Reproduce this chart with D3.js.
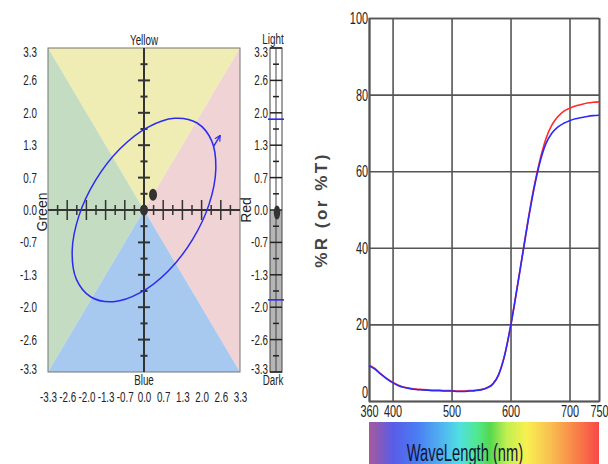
<!DOCTYPE html>
<html>
<head>
<meta charset="utf-8">
<script src="https://cdn.jsdelivr.net/npm/d3@7"></script>
<style>
body { margin: 0; background: #fff; }
</style>
</head>
<body>
<div id="chart-area"></div>
<script>
// ---- data ----
var abTicks = [-3.3, -2.64, -1.98, -1.32, -0.66, 0, 0.66, 1.32, 1.98, 2.64, 3.3];
var abMinor = [-2.97, -2.31, -1.65, -0.99, -0.33, 0.33, 0.99, 1.65, 2.31, 2.97];
var zoneNames = ["yellow", "green", "red", "blue"];
var zonePts = [
    [[-3.3, 3.3], [3.3, 3.3], [0, 0]],
    [[-3.3, 3.3], [-3.3, -3.3], [0, 0]],
    [[3.3, 3.3], [3.3, -3.3], [0, 0]],
    [[-3.3, -3.3], [3.3, -3.3], [0, 0]]
];
var ellipsePts = [
    [1.825, 1.772], [2.327, 1.408], [2.468, 0.827], [2.238, 0.12],
    [1.667, -0.603], [0.842, -1.237], [-0.11, -1.679], [-1.048, -1.868],
    [-1.825, -1.772], [-2.327, -1.408], [-2.468, -0.827], [-2.238, -0.12],
    [-1.667, 0.603], [-0.842, 1.237], [0.11, 1.679], [1.048, 1.868]
];
var arrowPts = [[2.4, 1.3], [2.62, 1.52]];
var samplePts = [[0, 0], [0.31, 0.31]];
var lightLimits = [1.85, -1.83];
var lightSample = -0.05;

var wavelengths = [360, 370, 380, 390, 400, 410, 420, 430, 440, 450, 460, 470, 480, 490, 500,
    510, 520, 530, 540, 550, 560, 570, 580, 590, 600, 610, 620, 630, 640, 650,
    660, 670, 680, 690, 700, 710, 720, 730, 740, 750];
var reflRed = [9.4, 8.5, 7.1, 5.9, 4.9, 4.1, 3.6, 3.3, 3.1, 3.0, 2.9, 2.8, 2.8, 2.7, 2.7,
    2.6, 2.6, 2.7, 2.8, 3.0, 3.5, 4.5, 7.0, 12.0, 19.5, 28.5, 38.0, 47.5, 56.0, 63.0,
    68.5, 72.0, 74.2, 75.6, 76.4, 77.0, 77.4, 77.8, 78.0, 78.1];
var reflBlue = [9.2, 8.3, 7.0, 5.8, 4.8, 4.0, 3.5, 3.2, 3.0, 2.9, 2.8, 2.7, 2.7, 2.6, 2.6,
    2.5, 2.5, 2.6, 2.7, 2.9, 3.4, 4.4, 6.9, 11.9, 19.4, 28.4, 37.8, 47.2, 55.6, 62.4,
    67.2, 69.9, 71.5, 72.5, 73.2, 73.7, 74.0, 74.3, 74.5, 74.6];
var pctTicks = [0, 20, 40, 60, 80, 100];
var wlTicks = [360, 400, 500, 600, 700, 750];
var spectrumNm = [360, 400, 441, 486, 514, 543, 565, 593, 627, 667, 712, 750];

// ---- styles ----
var zoneColor = { yellow: "#efedb3", green: "#c3dcc2", red: "#efd3d5", blue: "#a7c8ef" };
var spectrumColors = ["#a65a9a", "#5a5ce8", "#4a7cf2", "#50b8f0", "#50e0e0", "#50e890",
    "#55d850", "#c0ef50", "#f8f050", "#f8c050", "#f88048", "#f84848"];
var FONT = "'Liberation Sans', Arial, sans-serif";
var axisColor = "#333";

// the reference is squeezed sideways, so horizontal text is narrowed
function squeeze(sel, k) {
    sel.each(function () {
        var w = this.getComputedTextLength();
        d3.select(this).attr("textLength", w * k).attr("lengthAdjust", "spacingAndGlyphs");
    });
}

// end labels sit a little inside the plot edges
function nudgeEnds(axisG) {
    axisG.selectAll(".tick text")
        .filter(d => d === 3.3).attr("dy", "0.62em");
    axisG.selectAll(".tick text")
        .filter(d => d === -3.3).attr("dy", "0.1em");
}

var svg = d3.select("#chart-area")
    .append("svg")
    .attr("width", 608)
    .attr("height", 464)
    .style("display", "block");
var defs = svg.append("defs");

// ---- left: a*/b* plane ----
var abX = d3.scaleLinear().domain([-3.3, 3.3]).range([48, 240]);
var abY = d3.scaleLinear().domain([-3.3, 3.3]).range([372, 48]);

var left = svg.append("g");

left.selectAll(".zone")
    .data(zonePts)
    .enter().append("polygon")
    .attr("class", "zone")
    .attr("points", d => d.map(p => abX(p[0]) + "," + abY(p[1])).join(" "))
    .attr("fill", (d, i) => zoneColor[zoneNames[i]]);

left.append("rect")
    .attr("x", abX(-3.3)).attr("y", abY(3.3))
    .attr("width", abX(3.3) - abX(-3.3))
    .attr("height", abY(-3.3) - abY(3.3))
    .attr("fill", "none")
    .attr("stroke", "#777")
    .attr("stroke-width", 1);

// cross axes
left.append("line")
    .attr("x1", abX(-3.3)).attr("x2", abX(3.3))
    .attr("y1", abY(0)).attr("y2", abY(0))
    .attr("stroke", axisColor).attr("stroke-width", 2);
left.append("line")
    .attr("x1", abX(0)).attr("x2", abX(0))
    .attr("y1", abY(3.3)).attr("y2", abY(-3.3))
    .attr("stroke", axisColor).attr("stroke-width", 2);

var inner = abTicks.filter(d => Math.abs(d) < 3.3 && d !== 0);
left.selectAll(".vmajor").data(inner).enter().append("line")
    .attr("x1", abX(0) - 6).attr("x2", abX(0) + 6)
    .attr("y1", d => abY(d)).attr("y2", d => abY(d))
    .attr("stroke", axisColor).attr("stroke-width", 2);
left.selectAll(".vminor").data(abMinor).enter().append("line")
    .attr("x1", abX(0) - 3.5).attr("x2", abX(0) + 3.5)
    .attr("y1", d => abY(d)).attr("y2", d => abY(d))
    .attr("stroke", axisColor).attr("stroke-width", 2);
left.selectAll(".hmajor").data(inner).enter().append("line")
    .attr("x1", d => abX(d)).attr("x2", d => abX(d))
    .attr("y1", abY(0) - 10).attr("y2", abY(0) + 10)
    .attr("stroke", axisColor).attr("stroke-width", 1.5);
left.selectAll(".hminor").data(abMinor).enter().append("line")
    .attr("x1", d => abX(d)).attr("x2", d => abX(d))
    .attr("y1", abY(0) - 5).attr("y2", abY(0) + 5)
    .attr("stroke", axisColor).attr("stroke-width", 1.5);

// tick labels (plain hyphen for the minus sign, as in the original)
var fmt = d => d3.format(".1f")(d).replace("\u2212", "-");
var abLeftAxis = left.append("g")
    .attr("transform", "translate(37,0)")
    .call(d3.axisLeft(abY).tickValues(abTicks).tickSize(0).tickPadding(0).tickFormat(fmt));
var abBottomAxis = left.append("g")
    .attr("transform", "translate(0,392)")
    .call(d3.axisBottom(abX).tickValues(abTicks).tickSize(0).tickPadding(0).tickFormat(fmt));
[abLeftAxis, abBottomAxis].forEach(a => {
    a.select(".domain").remove();
    a.selectAll("text").attr("font-family", FONT).attr("font-size", "14px").attr("fill", "#222")
        .call(squeeze, 0.7);
});
nudgeEnds(abLeftAxis);

function label(x, y, txt, rot) {
    var t = left.append("text")
        .attr("text-anchor", "middle")
        .attr("font-family", FONT)
        .attr("font-size", "14px")
        .attr("fill", "#222")
        .text(txt);
    if (rot) {
        t.attr("transform", "translate(" + x + "," + y + ") rotate(-90)");
    } else {
        t.attr("x", x).attr("y", y).call(squeeze, 0.7);
    }
    return t;
}
label(abX(0), 45, "Yellow");
label(abX(0), 385, "Blue");
label(47, 212, "Green", true);
label(251, 210, "Red", true);

// tolerance ellipse
var abLine = d3.line().x(d => abX(d[0])).y(d => abY(d[1]));
left.append("path")
    .datum(ellipsePts)
    .attr("d", abLine.curve(d3.curveCatmullRomClosed.alpha(0.5)))
    .attr("fill", "none")
    .attr("stroke", "#2b2bf0")
    .attr("stroke-width", 1.5);

defs.append("marker")
    .attr("id", "arrow-head")
    .attr("viewBox", "0 0 10 10")
    .attr("refX", 9).attr("refY", 5)
    .attr("markerWidth", 7).attr("markerHeight", 7)
    .attr("markerUnits", "userSpaceOnUse")
    .attr("orient", "auto")
    .append("path")
    .attr("d", "M1,1 L9,5 L1,9")
    .attr("fill", "none")
    .attr("stroke", "#2b2bf0")
    .attr("stroke-width", 1.6);

left.append("path")
    .datum(arrowPts)
    .attr("d", d3.line().x(d => abX(d[0])).y(d => abY(d[1])))
    .attr("fill", "none")
    .attr("stroke", "#2b2bf0")
    .attr("stroke-width", 1.4)
    .attr("marker-end", "url(#arrow-head)");

left.selectAll(".sample")
    .data(samplePts)
    .enter().append("ellipse")
    .attr("cx", d => abX(d[0]))
    .attr("cy", d => abY(d[1]))
    .attr("rx", 4)
    .attr("ry", (d, i) => i === 0 ? 5.5 : 6)
    .attr("fill", "#333");

// ---- lightness bar ----
var lY = abY;
var barX0 = 270, barX1 = 282, barMid = 276;
left.append("rect")
    .attr("x", barX0).attr("y", lY(0))
    .attr("width", barX1 - barX0).attr("height", lY(-3.3) - lY(0))
    .attr("fill", "#b5b5b5");
left.append("rect")
    .attr("x", barX0).attr("y", lY(3.3))
    .attr("width", barX1 - barX0).attr("height", lY(-3.3) - lY(3.3))
    .attr("fill", "none").attr("stroke", "#444").attr("stroke-width", 1);
left.append("line")
    .attr("x1", barMid).attr("x2", barMid)
    .attr("y1", lY(3.3)).attr("y2", lY(-3.3))
    .attr("stroke", "#444").attr("stroke-width", 1);
left.selectAll(".lmajor").data(abTicks).enter().append("line")
    .attr("x1", barX0).attr("x2", barX1)
    .attr("y1", d => lY(d)).attr("y2", d => lY(d))
    .attr("stroke", "#222").attr("stroke-width", 1.5);
left.selectAll(".lminor").data(abMinor).enter().append("line")
    .attr("x1", barMid - 3).attr("x2", barMid + 3)
    .attr("y1", d => lY(d)).attr("y2", d => lY(d))
    .attr("stroke", "#222").attr("stroke-width", 1.5);
left.selectAll(".llimit").data(lightLimits).enter().append("line")
    .attr("x1", barX0 - 2).attr("x2", barX1 + 2)
    .attr("y1", d => lY(d)).attr("y2", d => lY(d))
    .attr("stroke", "#2b2bf0").attr("stroke-width", 1.6);
left.append("ellipse")
    .attr("cx", 277).attr("cy", lY(lightSample))
    .attr("rx", 3.2).attr("ry", 7)
    .attr("fill", "#333");

var lAxis = left.append("g")
    .attr("transform", "translate(268,0)")
    .call(d3.axisLeft(lY).tickValues(abTicks).tickSize(0).tickPadding(0).tickFormat(fmt));
lAxis.select(".domain").remove();
lAxis.selectAll("text").attr("font-family", FONT).attr("font-size", "14px").attr("fill", "#222")
    .call(squeeze, 0.7);
nudgeEnds(lAxis);

label(273, 44, "Light");
label(273, 385, "Dark");

// ---- right: spectral curve ----
var wlX = d3.scaleLinear().domain([360, 750]).range([369, 599]);
var pctY = d3.scaleLinear().domain([0, 100]).range([401, 18]);
var right = svg.append("g");

var grad = defs.append("linearGradient")
    .attr("id", "spectrum")
    .attr("x1", "0%").attr("x2", "100%").attr("y1", "0%").attr("y2", "0%");
grad.selectAll("stop")
    .data(spectrumNm)
    .enter().append("stop")
    .attr("offset", d => ((d - 360) / 390 * 100) + "%")
    .attr("stop-color", (d, i) => spectrumColors[i]);

right.append("rect")
    .attr("x", wlX(360)).attr("y", 422)
    .attr("width", wlX(750) - wlX(360)).attr("height", 50)
    .attr("fill", "url(#spectrum)");
right.append("text")
    .attr("x", 465).attr("y", 461)
    .attr("text-anchor", "middle")
    .attr("font-family", FONT)
    .attr("font-size", "23px")
    .attr("fill", "#14143a")
    .text("WaveLength (nm)")
    .call(squeeze, 0.64);

var yAxis = right.append("g")
    .attr("transform", "translate(" + wlX(360) + ",0)")
    .call(d3.axisLeft(pctY).tickValues(pctTicks).tickSize(-(wlX(750) - wlX(360))).tickPadding(1));
var xAxis = right.append("g")
    .attr("transform", "translate(0," + pctY(0) + ")")
    .call(d3.axisBottom(wlX).tickValues(wlTicks).tickSize(-(pctY(0) - pctY(100))).tickPadding(4));
[yAxis, xAxis].forEach(a => {
    a.select(".domain").attr("stroke", "#555").attr("stroke-width", 1.6);
    a.selectAll(".tick line").attr("stroke", "#555").attr("stroke-width", 1.6);
    a.selectAll("text").attr("font-family", FONT).attr("font-size", "17px").attr("fill", "#222")
        .call(squeeze, 0.64);
});
yAxis.selectAll(".tick text").filter(d => d === 0).attr("dy", "-0.2em");

right.append("text")
    .attr("transform", "translate(327,210) rotate(-90)")
    .attr("text-anchor", "middle")
    .attr("font-family", FONT)
    .attr("font-size", "17px")
    .attr("font-weight", "bold")
    .attr("letter-spacing", "2.5px")
    .attr("fill", "#444")
    .text("%R (or %T)");

var specLine = d3.line()
    .x((d, i) => wlX(wavelengths[i]))
    .y(d => pctY(d))
    .curve(d3.curveMonotoneX);

right.append("path")
    .datum(reflRed)
    .attr("d", specLine)
    .attr("fill", "none")
    .attr("stroke", "#ff2a2a")
    .attr("stroke-width", 1.6);
right.append("path")
    .datum(reflBlue)
    .attr("d", specLine)
    .attr("fill", "none")
    .attr("stroke", "#2a2aff")
    .attr("stroke-width", 1.6);
</script>
</body>
</html>
